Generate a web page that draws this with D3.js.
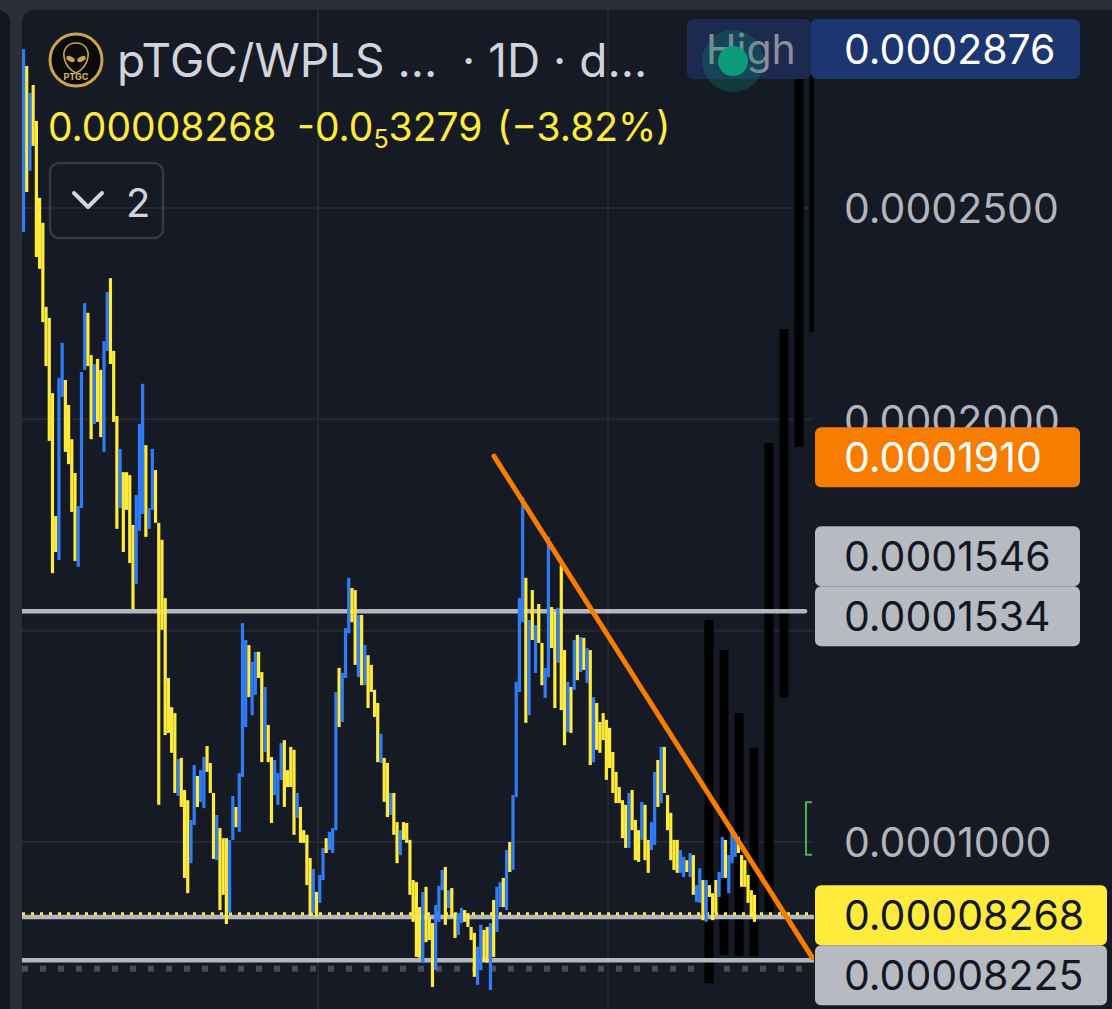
<!DOCTYPE html>
<html><head><meta charset="utf-8">
<script src="https://cdn.jsdelivr.net/npm/d3@7"></script>
<style>html,body{margin:0;padding:0;background:#2a2e39;overflow:hidden}svg{display:block;font-family:Inter,"Noto Sans",sans-serif}</style>
</head><body><svg id="c" width="1112" height="1009"></svg>
<script>
// ---- data (prices in units of 1e-6) ----
const highsE6 = [287.6,283.6,277.2,279.1,270.6,252.4,246.5,226.6,224.0,206.2,
177.1,209.8,218.1,209.3,203.4,195.3,187.3,179.5,211.2,227.5,
225.2,215.2,213.1,214.3,211.7,218.5,230.1,233.4,216.2,200.8,
193.0,187.5,187.5,186.8,175.0,182.1,198.9,208.4,193.9,179.0,
193.0,188.0,175.5,171.5,157.7,138.8,131.9,130.5,119.6,119.9,
112.3,109.9,105.2,118.2,115.6,117.0,120.1,122.7,118.7,111.6,
106.4,103.3,100.9,100.9,100.5,110.9,108.3,116.3,151.8,147.8,
146.6,142.6,145.0,145.0,140.2,136.7,127.7,120.1,119.4,116.3,
123.4,124.1,117.0,122.5,121.8,111.6,108.3,102.8,101.7,96.2,
93.6,88.2,92.2,98.6,100.9,102.4,103.3,135.5,141.2,140.0,
150.6,162.5,160.1,159.6,153.7,153.7,146.6,144.2,141.9,136.0,
132.9,125.6,119.9,118.7,111.6,111.6,104.7,102.8,104.7,104.5,
100.5,91.0,90.5,84.6,88.2,89.4,82.3,80.8,85.1,89.6,
93.4,94.1,88.6,89.1,83.2,83.2,84.4,83.9,83.2,79.9,
78.5,75.2,80.4,79.2,79.9,80.8,86.3,89.4,90.5,91.5,
98.1,100.0,111.1,137.9,157.7,181.6,162.5,152.5,159.6,151.3,
156.3,147.1,141.2,172.2,155.6,154.4,155.4,165.5,145.4,137.9,
136.7,147.8,149.0,148.5,148.3,145.9,145.4,134.3,132.9,128.4,
130.5,128.9,127.0,121.3,116.6,113.0,109.9,108.8,111.6,112.3,
105.2,102.8,109.5,108.8,100.5,104.7,116.6,119.4,122.5,122.5,
111.1,106.9,100.5,100.5,98.1,96.5,95.7,97.4,96.9,89.8,
93.8,91.0,91.0,89.8,87.9,91.0,92.9,101.2,100.5,96.9,
103.5,102.1,101.2,96.9,95.7,92.2,88.6,87.5];
const lowsE6 = [244.3,253.8,258.8,264.7,238.4,235.6,223.0,212.6,194.9,163.6,
168.6,166.7,205.3,192.3,189.4,178.1,166.5,165.1,179.0,211.7,
212.6,195.3,198.9,199.4,195.8,192.3,216.2,213.1,199.4,174.1,
179.0,168.6,178.6,166.0,155.1,161.0,173.6,177.6,172.2,174.1,
178.6,175.5,108.8,150.2,125.3,125.8,121.1,111.6,110.9,108.3,
91.5,87.9,95.0,104.0,108.3,109.5,108.0,116.6,111.6,96.0,
95.7,83.9,87.5,80.6,83.2,100.5,103.5,102.4,115.4,127.2,
134.3,130.0,134.8,138.8,118.9,121.3,118.9,104.5,111.1,108.8,
114.7,108.3,113.0,113.0,101.7,105.7,99.8,99.8,89.8,82.5,
83.2,82.3,85.6,91.0,97.4,98.1,97.4,102.8,127.2,128.4,
138.8,149.4,152.0,141.9,139.0,137.1,137.1,131.7,135.5,129.6,
118.9,118.7,109.5,105.9,106.4,101.7,95.0,96.9,100.5,99.8,
87.5,81.1,72.8,72.6,71.4,76.3,76.8,65.7,69.7,81.1,
88.6,80.4,84.4,82.3,77.3,78.0,80.8,81.1,79.9,76.8,
68.1,66.2,69.7,71.6,71.4,65.0,72.8,78.7,84.6,84.6,
83.9,92.9,93.4,110.6,135.5,152.0,128.2,130.0,147.8,140.0,
147.1,137.1,134.1,139.0,145.9,131.7,142.4,131.2,122.9,126.0,
125.8,136.0,138.3,140.2,140.7,137.6,118.2,118.9,121.8,121.1,
124.1,114.7,117.5,111.6,109.2,109.2,100.9,98.6,98.6,102.8,
95.7,95.3,100.5,95.7,92.7,98.1,99.3,108.3,109.2,111.6,
102.8,95.7,93.4,92.7,92.7,91.7,92.9,91.7,87.5,85.8,
85.6,81.5,81.1,87.0,81.5,83.2,87.0,91.5,91.5,87.9,
95.0,96.5,97.4,89.4,89.4,85.6,82.3,81.1];
// B = blue (up), Y = yellow (down)
const candleDirs = ("BYBYYYYYYY"+"YBBYYYYBBB"+"YYBYYBBYYY"+"BYYYYBBBYB"+"BYYYYYYYBY"+
"YYBBYBBYYY"+"BYYYBBYBBB"+"YBBYYBYYBB"+"BYYYYBYYYY"+"BYBBYBBBYB"+
"BBYYBYBYYY"+"YBYYBYYBYY"+"YYYYBYYYBB"+"BYBYYBBYYY"+"YBBYYBYBBY"+
"BYBBBBYBYB"+"YYBBYYBYYB"+"YBYBYBYBYY"+"YYYYYYYYBY"+"YYBYYBBYBY"+
"YYYYBBYBYB"+"BYBYYYBBYB"+"BBYYYYYY").split("");
// black overlay bars (second series)
const ghostTopE6 =    [152.5,145.4,130.5,122.2,194.4,221.4,281.5,281.5];
const ghostBottomE6 = [66.6, 73.3, 73.0, 73.0, 83.4, 134.1,193.5,220.7];
// axis
const yTickValues = [0.0001, 0.00015, 0.0002, 0.00025];
const timeGridIdx = [91.5, 181.5];
// drawings
const supportLevel = 0.0001546;
const levelLines = [0.00008225, 0.0000720];
const dottedLevel = 0.0000700;
const lastPrice = 0.00008268;
const trendIdx = [146.1, 245.0];
const trendVal = [0.0001913, 0.0000726];
// price labels on the scale
const labelTexts  = ["0.0002876","0.0001910","0.0001534","0.0001546","0.00008268","0.00008225"];
const labelValues = [0.0002876, 0.0001910, 0.0001534, 0.0001546, 0.00008268, 0.00008225];
const labelKinds  = ["high","trend","line","line","last","line"];
// header
const titleText = "pTGC/WPLS ...";
const intervalText = "· 1D · d...";
const priceText = "0.00008268";
const changeHead = "-0.0", changeSub = "5", changeTail = "3279";
const pctText = "(−3.82%)";

// ---- drawing ----
const svg = d3.select("#c");
const W = 1112, H = 1009, paneL = 22, paneR = 814;
const y = d3.scaleLinear().domain([0.0001, 0.00025]).range([842, 208]);
const x = d3.scaleLinear().domain([0, highsE6.length - 1]).range([23.5, 754.5]);
const gx = d3.scaleLinear().domain([0, ghostTopE6.length - 1]).range([709, 814]);
const E6 = v => v * 1e-6;

svg.append("rect").attr("width", W).attr("height", H).attr("fill", "#2a2e39");
svg.append("rect").attr("x", -30).attr("y", 10).attr("width", 40).attr("height", H + 20).attr("rx", 12).attr("fill", "#131722");
svg.append("rect").attr("x", paneL).attr("y", 10).attr("width", W).attr("height", H + 20).attr("rx", 12).attr("fill", "#161a25");

svg.append("defs").append("clipPath").attr("id", "pane")
  .append("rect").attr("x", paneL).attr("y", 10).attr("width", paneR - paneL).attr("height", H);
const pane = svg.append("g").attr("clip-path", "url(#pane)");

// grid
pane.selectAll(".hg").data(yTickValues).join("line")
  .attr("x1", paneL).attr("x2", paneR).attr("y1", d => y(d)).attr("y2", d => y(d))
  .attr("stroke", "#242833").attr("stroke-width", 2);
pane.selectAll(".vg").data(timeGridIdx).join("line")
  .attr("x1", d => x(d)).attr("x2", d => x(d)).attr("y1", 10).attr("y2", H)
  .attr("stroke", "#242833").attr("stroke-width", 2);

// dotted gray level
pane.append("line").attr("x1", paneL).attr("x2", paneR)
  .attr("y1", y(dottedLevel)).attr("y2", y(dottedLevel))
  .attr("stroke", "#4a4e59").attr("stroke-width", 6).attr("stroke-dasharray", "6 12");

// black overlay bars
pane.selectAll(".gb").data(ghostTopE6).join("rect")
  .attr("x", (d, i) => gx(i) - 4.5).attr("width", 9)
  .attr("y", d => y(E6(d)))
  .attr("height", (d, i) => y(E6(ghostBottomE6[i])) - y(E6(d)))
  .attr("fill", "#000");

// horizontal lines
pane.append("line").attr("x1", paneL).attr("x2", 805)
  .attr("y1", y(supportLevel)).attr("y2", y(supportLevel))
  .attr("stroke", "#b5b7bf").attr("stroke-width", 4.5).attr("stroke-linecap", "round");
pane.selectAll(".lv").data(levelLines).join("line")
  .attr("x1", paneL).attr("x2", paneR).attr("y1", d => y(d)).attr("y2", d => y(d))
  .attr("stroke", "#b5b7bf").attr("stroke-width", 4.5);
pane.append("line").attr("x1", paneL).attr("x2", paneR)
  .attr("y1", y(lastPrice) - 1.5).attr("y2", y(lastPrice) - 1.5)
  .attr("stroke", "#ffeb3b").attr("stroke-width", 3).attr("stroke-dasharray", "3 6");

// candles
const colorOf = d => d === "B" ? "#2f7cf6" : "#ffeb3b";
pane.selectAll(".cd").data(highsE6).join("rect")
  .attr("x", (d, i) => x(i) - 1.6).attr("width", 3.2)
  .attr("y", d => y(E6(d)))
  .attr("height", (d, i) => Math.max(1, y(E6(lowsE6[i])) - y(E6(d))))
  .attr("fill", (d, i) => colorOf(candleDirs[i]));

// trend line
pane.append("line")
  .attr("x1", x(trendIdx[0])).attr("y1", y(trendVal[0]))
  .attr("x2", x(trendIdx[1])).attr("y2", y(trendVal[1]))
  .attr("stroke", "#f77c00").attr("stroke-width", 5).attr("stroke-linecap", "round");

// green bracket
svg.append("path").attr("d", `M812 ${y(0.0001094)} H806 V${y(0.0000970)} H812`)
  .attr("fill", "none").attr("stroke", "#4caf50").attr("stroke-width", 2);

// price axis
const axis = d3.axisRight(y).tickValues(yTickValues).tickSize(0).tickPadding(0)
  .tickFormat(d3.format(".7f"));
const ag = svg.append("g").attr("transform", "translate(844,0)").call(axis);
ag.select(".domain").remove();
ag.selectAll("text").attr("fill", "#b2b5be").attr("font-size", 41)
  .attr("font-family", "Inter, sans-serif").attr("dy", "0.36em").attr("x", 0);

// price labels with collision stacking
const BH = 60;
const styleOf = {
  high:  {fill: "#1b3670", text: "#ffffff"},
  trend: {fill: "#f77c00", text: "#ffffff"},
  line:  {fill: "#b8bac2", text: "#131722"},
  last:  {fill: "#ffeb3b", text: "#131722"}
};
const placed = [];
labelTexts.forEach((t, i) => {
  const v = labelValues[i];
  let cy = y(v);
  placed.forEach(p => {
    if (Math.abs(cy - p.cy) < BH) cy = v > p.v ? p.cy - BH : p.cy + BH;
  });
  placed.push({t, v, cy, kind: labelKinds[i]});
});
placed.forEach(p => {
  const s = styleOf[p.kind];
  const x0 = p.kind === "high" ? 811 : 815;
  const x1 = p.t.length > 9 ? 1107 : 1080;
  svg.append("rect").attr("x", x0).attr("y", p.cy - BH / 2).attr("width", x1 - x0).attr("height", BH)
    .attr("rx", 6).attr("fill", s.fill);
  svg.append("text").attr("x", 844).attr("y", p.cy).attr("dy", "0.36em")
    .attr("font-size", 41).attr("fill", s.text).text(p.t);
});

// "High" marker
const hy = y(labelValues[0]);
svg.append("rect").attr("x", 687).attr("y", hy - BH / 2).attr("width", 124).attr("height", BH)
  .attr("rx", 6).attr("fill", "#1b2b50").attr("opacity", 0.95);
svg.append("text").attr("x", 706).attr("y", hy).attr("dy", "0.36em")
  .attr("font-size", 41).attr("fill", "#8c8f99").text("High");
svg.append("circle").attr("cx", 733).attr("cy", hy + 12).attr("r", 31).attr("fill", "#089981").attr("opacity", 0.25);
svg.append("circle").attr("cx", 733).attr("cy", hy + 12).attr("r", 15).attr("fill", "#0c9c7d");

// header: logo
const logo = svg.append("g").attr("transform", "translate(76,60)");
logo.append("circle").attr("r", 26).attr("fill", "#0a0a0a").attr("stroke", "#c9a44c").attr("stroke-width", 3);
logo.append("path").attr("d", "M0,-17 C9,-17 13,-10 12,-3 C11,5 5,11 0,13 C-5,11 -11,5 -12,-3 C-13,-10 -9,-17 0,-17Z")
  .attr("fill", "none").attr("stroke", "#c9a44c").attr("stroke-width", 1.6);
logo.append("ellipse").attr("cx", -5.5).attr("cy", -1).attr("rx", 4.5).attr("ry", 2.5)
  .attr("transform", "rotate(25,-5.5,-1)").attr("fill", "#c9a44c");
logo.append("ellipse").attr("cx", 5.5).attr("cy", -1).attr("rx", 4.5).attr("ry", 2.5)
  .attr("transform", "rotate(-25,5.5,-1)").attr("fill", "#c9a44c");
logo.append("text").attr("y", 20).attr("text-anchor", "middle").attr("font-size", 9)
  .attr("font-weight", 700).attr("fill", "#d8b75a").text("PTGC");

// header: title
svg.append("text").attr("x", 117).attr("y", 77).attr("font-size", 46).attr("fill", "#d1d4dc").text(titleText);
svg.append("text").attr("x", 462).attr("y", 77).attr("font-size", 46).attr("fill", "#d1d4dc").text(intervalText);
const pl = svg.append("text").attr("y", 141).attr("font-size", 39).attr("fill", "#ffeb3b");
pl.append("tspan").attr("x", 48).text(priceText);
pl.append("tspan").attr("x", 297).text(changeHead);
pl.append("tspan").attr("font-size", 25).attr("dy", 7).text(changeSub);
pl.append("tspan").attr("dy", -7).text(changeTail);
pl.append("tspan").attr("x", 497).text(pctText);

// header: indicators button
svg.append("rect").attr("x", 50).attr("y", 163).attr("width", 113).attr("height", 75).attr("rx", 9)
  .attr("fill", "none").attr("stroke", "#363a45").attr("stroke-width", 2.5);
svg.append("path").attr("d", "M74 193 L88 207 L102 193").attr("fill", "none")
  .attr("stroke", "#d1d4dc").attr("stroke-width", 4).attr("stroke-linecap", "round").attr("stroke-linejoin", "round");
svg.append("text").attr("x", 126).attr("y", 217).attr("font-size", 40).attr("fill", "#d1d4dc").text("2");
</script></body></html>
